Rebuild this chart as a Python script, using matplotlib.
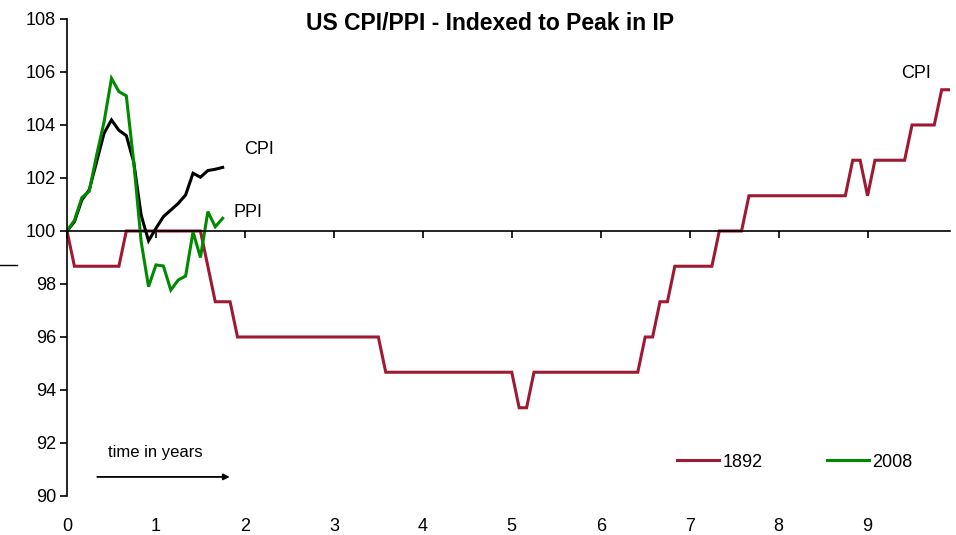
import matplotlib

matplotlib.use("Agg")
import matplotlib.pyplot as plt
from matplotlib.lines import Line2D

plt.rcParams["font.family"] = ["Liberation Sans", "DejaVu Sans"]

# 1892 episode, monthly, index = 100 at the peak in industrial production
cpi_1892 = (
    [100.0]
    + [98.67] * 7
    + [100.0] * 11
    + [98.67]
    + [97.33] * 3
    + [96.0] * 20
    + [94.67] * 18
    + [93.33] * 2
    + [94.67] * 15
    + [96.0] * 2
    + [97.33] * 2
    + [98.67] * 6
    + [100.0] * 4
    + [101.33] * 14
    + [102.67] * 2
    + [101.33]
    + [102.67] * 5
    + [104.0] * 4
    + [105.33] * 2
)

# 2008 episode, monthly
cpi_2008 = [100.0, 100.35, 101.17, 101.55, 102.62, 103.69, 104.19, 103.8, 103.6,
            102.6, 100.6, 99.63, 100.1, 100.54, 100.79, 101.04, 101.36, 102.18,
            102.03, 102.28, 102.33, 102.4]
ppi_2008 = [100.0, 100.4, 101.26, 101.5, 102.87, 104.12, 105.76, 105.26, 105.1,
            102.6, 99.6, 97.9, 98.72, 98.68, 97.77, 98.15, 98.3, 99.97,
            99.0, 100.73, 100.16, 100.48]

x_ticks = list(range(10))
y_ticks = list(range(90, 109, 2))

t_1892 = [m / 12 for m in range(len(cpi_1892))]
t_2008 = [m / 12 for m in range(len(cpi_2008))]

crimson = "#9E1A33"
green = "#008A00"
fs = 13

fig = plt.figure(figsize=(9.56, 5.35), dpi=100)
ax = fig.add_axes([0.0701, 0.0729, 0.9236, 0.8916])

l1892, = ax.plot(t_1892, cpi_1892, color=crimson, lw=2.2, solid_joinstyle="miter")
ax.plot(t_2008, cpi_2008, color="black", lw=2.2, solid_joinstyle="miter")
lppi, = ax.plot(t_2008, ppi_2008, color=green, lw=2.2, solid_joinstyle="miter")

ax.set_xlim(0, (len(cpi_1892) - 1) / 12 + 0.01)
ax.set_ylim(90, 108)
ax.set_yticks(y_ticks)
ax.set_xticks(x_ticks)
ax.set_xticklabels([])

for s in ("top", "right"):
    ax.spines[s].set_visible(False)
ax.spines["bottom"].set_position(("data", 100))
ax.spines["bottom"].set_linewidth(1.2)
ax.spines["left"].set_linewidth(1.2)
ax.tick_params(axis="x", direction="out", length=5, width=1.2)
ax.tick_params(axis="y", direction="out", length=5, width=1.2, labelsize=fs, pad=3)

# category labels sit below the plot, not on the 100 line
for xt in x_ticks:
    ax.text(xt, -0.063, str(xt), transform=ax.get_xaxis_transform(),
            ha="center", va="center", fontsize=fs)

fig.text(0.513, 1 - 24 / 535, "US CPI/PPI - Indexed to Peak in IP",
         fontsize=16.5, fontweight="bold", ha="center", va="center")

ax.text(2.156, 103.06, "CPI", fontsize=fs, ha="center", va="center")
ax.text(2.04, 100.68, "PPI", fontsize=fs, ha="center", va="center")
ax.text(9.55, 105.96, "CPI", fontsize=fs, ha="center", va="center")

ax.annotate("", xy=(1.83, 90.72), xytext=(0.34, 90.72),
            arrowprops=dict(arrowstyle="-|>", color="black", lw=1.3,
                            mutation_scale=9, shrinkA=0, shrinkB=0))
ax.text(0.99, 91.66, "time in years", fontsize=12, ha="center", va="center")

ax.legend([l1892, lppi], ["1892", "2008"], ncol=2, frameon=False,
          loc="center left", bbox_to_anchor=(0.687, 0.071), fontsize=fs,
          handlelength=2.3, handletextpad=0.2, columnspacing=3.6,
          borderaxespad=0, borderpad=0.2)

fig.add_artist(Line2D([0.0, 0.018], [0.5047, 0.5047], color="black", lw=1.0))

fig.savefig("out.png", dpi=100)
